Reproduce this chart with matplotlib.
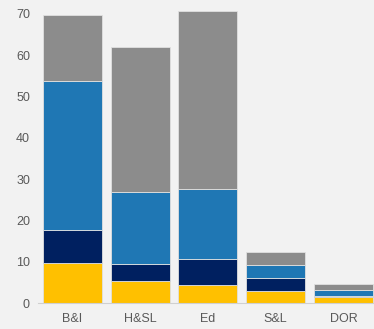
import numpy as np
import matplotlib.pyplot as plt

plt.rcParams["font.family"] = ["Liberation Sans", "DejaVu Sans"]

# Categories and stacked segment values
categories = ["B&I", "H&SL", "Ed", "S&L", "DOR"]
yellow_vals = [9.6, 5.4, 4.3, 3.0, 1.45]
navy_vals = [8.1, 4.0, 6.3, 3.1, 0.25]
blue_vals = [36.0, 17.5, 17.0, 3.0, 1.4]
gray_vals = [16.0, 35.0, 43.1, 3.2, 1.6]

series = [yellow_vals, navy_vals, blue_vals, gray_vals]
colors = ["#FFC000", "#002060", "#1F77B4", "#8C8C8C"]

fig = plt.figure(figsize=(3.74, 3.29), dpi=100)
fig.patch.set_facecolor("#F2F2F2")
ax = fig.add_axes([38.3 / 374, 26 / 329, 1 - 38.3 / 374, (303 - 5.6) / 329])
ax.set_facecolor("#F2F2F2")

x = np.arange(len(categories))
bottom = np.zeros(len(categories))
for vals, col in zip(series, colors):
    ax.bar(x, vals, width=0.87, bottom=bottom, color=col,
           edgecolor="#E0E0E0", linewidth=0.6)
    bottom += np.array(vals)

ax.set_xlim(-0.5, 4.45)
ax.set_ylim(0, 72)
ax.set_yticks(range(0, 71, 10))
ax.set_xticks(x)
ax.set_xticklabels(categories)

for s in ["top", "right", "left"]:
    ax.spines[s].set_visible(False)
ax.spines["bottom"].set_color("#D0D0D0")
ax.tick_params(axis="both", length=0, labelsize=9, labelcolor="#595959")
ax.tick_params(axis="x", pad=7)
ax.tick_params(axis="y", pad=6)

fig.savefig("out.png", dpi=100, facecolor=fig.get_facecolor())
